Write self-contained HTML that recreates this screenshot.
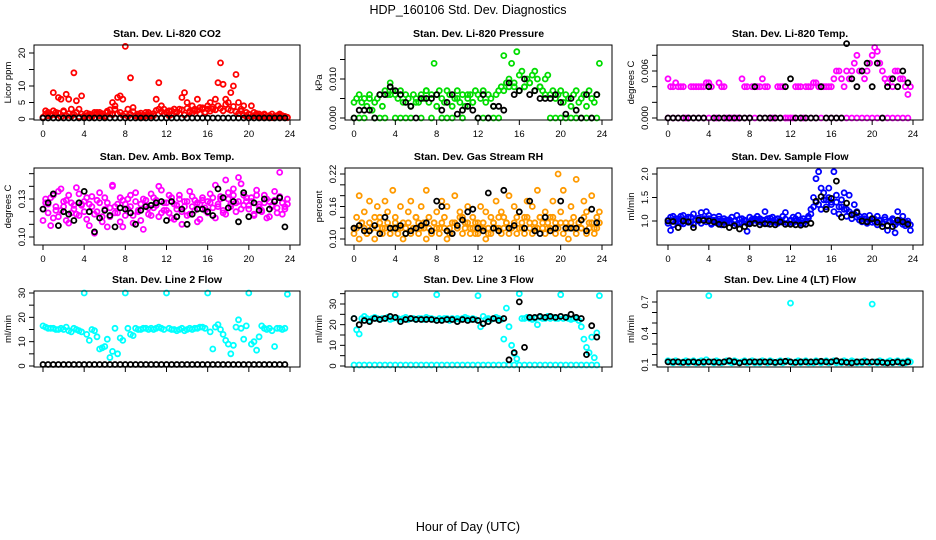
<!DOCTYPE html>
<html><head><meta charset="utf-8"><title>HDP_160106 Std. Dev. Diagnostics</title>
<style>
html,body{margin:0;padding:0;background:#fff;}
svg{display:block;font-family:"Liberation Sans",Arial,sans-serif;}
</style></head>
<body>
<svg id="chart" width="936" height="540" viewBox="0 0 936 540" xmlns="http://www.w3.org/2000/svg">
<text x="468" y="14" font-size="12.5" text-anchor="middle">HDP_160106  Std. Dev. Diagnostics</text>
<text x="468" y="531" font-size="12.5" text-anchor="middle">Hour of Day (UTC)</text>
</svg>
<script>
// ---- data (hour index: step * i) ----
const co2Red = [0.5,2.5,1,1.5,8,2,6.5,6,2.5,7.5,6,3,14,5.5,3,7,
1,1,1.5,1,2,1.5,2,1,0.5,2,1.5,5,4,6.5,7,6,
22,3,12.5,3.5,1,1.5,1,0.5,1,2,1,1,6,11,4,3,
2,1,2.5,3,2,3,6.5,8,5,2,4,2.5,6,3.5,3,2,
4,5,3,6,11,17,10.5,6,5,8,10,13.5,5,3,4,2,
1.5,4,2,1,1.5,1,1.5,0.5,1,1.5,0.5,1,1.5,1,0.5,0.5];
const co2RedBase = [0.4,1.5,2,1,2.5,1.2,1.8,0.6,2.2,1,1.6,0.8,1.4,2,0.7,1.5,
0.5,1.8,1.2,0.6,1.4,2,1,1.6,0.9,2.4,2.8,1.3,3,1.5,2,1.1,
1.6,0.8,1.4,2.2,1,0.6,1.8,1.2,2,1.4,0.9,1.6,2.6,3,2.2,1.5,
2,2.5,1.4,3,2.2,1.6,2.8,1.2,3.2,2.4,1.8,3,2.6,1.5,3.4,2,
3,2.4,3.6,2.8,4,3.2,2.5,4.4,3,2.6,3.8,2.2,1.6,2.4,1.2,0.8,
1.4,0.6,1,1.6,0.8,0.5,1.2,0.7,1,0.4,0.9,0.6,1.2,0.5,0.8,0.4];
const co2Black = [0.3,0.3,0.3,0.3,0.3,0.3,0.3,0.3,0.3,0.3,0.3,0.3,0.3,0.3,0.3,0.3,0.3,0.3,0.3,0.3,0.3,0.3,0.3,0.3,0.3,0.3,0.3,0.3,0.3,0.3,0.3,0.3,0.3,0.3,0.3,0.3,0.3,0.3,0.3,0.3,0.3,0.3,0.3,0.3,0.3,0.3,0.3,0.3];

const presGreen = [.004,.005,.006,.004,.005,.003,.006,.002,.004,.005,.006,.003,.007,.006,.009,.007,
.006,.005,.007,.004,.006,.005,.003,.006,.005,.004,.006,.005,.007,.004,.006,.014,
.006,.007,.005,.004,.007,.006,.003,.005,.007,.004,.006,.003,.005,.006,.004,.007,
.006,.005,.007,.004,.006,.005,.003,.006,.007,.008,.016,.009,.010,.014,.008,.017,
.011,.012,.008,.010,.009,.011,.012,.010,.008,.007,.010,.011,.006,.007,.005,.006,
.007,.004,.006,.005,.003,.006,.007,.004,.005,.006,.003,.007,.005,.004,.006,.014];
const presGreenBase = [0,0,0,.005,0,0,0,.006,0,0,0,0,.004,0,.007,0,.003,0,0,0,.005,0,.006,.004,0,0,0,0,0,.007,.008,.009,.007,.008,.009,.007,.008,.006,0,0,0,0,0,0,0,0,0,0];
const presBlack = [.000,.002,.002,.002,.000,.006,.006,.008,.007,.006,.004,.003,.000,.005,.005,.005,.006,.002,.004,.006,.001,.002,.003,.002,.000,.006,.000,.003,.003,.002,.009,.006,.007,.010,.006,.007,.005,.005,.005,.006,.004,.001,.005,.002,.000,.006,.000,.006];

const tempMag = [.005,.004,.004,.0045,.004,.004,.004,.000,.000,.004,.004,.004,.004,.004,.004,.0045,
.0045,.004,.000,.000,.0045,.004,.004,.000,.000,.000,.000,.000,.000,.005,.004,.004,
.000,.004,.004,.004,.004,.005,.004,.004,.000,.000,.000,.004,.004,.004,.000,.000,
.000,.000,.004,.004,.004,.000,.004,.004,.004,.0045,.0045,.004,.004,.004,.004,.004,
.004,.005,.006,.006,.005,.004,.006,.005,.006,.007,.008,.006,.006,.005,.006,.007,
.008,.009,.0085,.007,.006,.005,.0045,.005,.004,.006,.006,.005,.005,.004,.003,.004];
const tempMagBase = [0,0,0,0,0,0,0,0,0,0,0,0,0,0,0,0,0,0,0,0,0,0,0,0,0,0,0,0,0,0,0,0,0,0,0,0,0,0,0,0,0,0,0,0,0,0,0,0];
const tempBlack = [0,0,0,0,0,0,0,0,.004,0,0,0,0,0,0,0,0,.004,0,0,0,0,0,.004,.005,0,0,0,0,0,.004,0,0,0,0,.0095,.005,.004,.006,.007,.004,.007,0,.004,.005,.004,.006,.0045];

const boxMagA = [.122,.127,.119,.131,.115,.124,.136,.121,.128,.113,.133,.119,.125,.139,.117,.126,
.120,.131,.109,.124,.118,.129,.135,.112,.122,.127,.116,.140,.124,.119,.131,.108,
.126,.122,.133,.117,.128,.121,.113,.130,.125,.118,.134,.123,.129,.116,.137,.121,
.127,.119,.131,.114,.125,.133,.120,.128,.117,.136,.124,.129,.112,.126,.131,.121,
.128,.134,.123,.141,.126,.132,.119,.145,.130,.124,.138,.127,.147,.122,.133,.128,
.125,.131,.118,.137,.126,.121,.133,.115,.128,.124,.136,.119,.151,.127,.122,.130];
const boxMagB = [.113,.130,.126,.109,.133,.121,.116,.138,.124,.129,.111,.127,.122,.118,.134,.125,
.128,.114,.126,.132,.103,.120,.127,.116,.131,.108,.123,.141,.119,.126,.112,.129,
.117,.130,.124,.111,.135,.120,.126,.106,.129,.123,.117,.131,.125,.140,.119,.127,
.121,.133,.115,.126,.122,.130,.110,.124,.128,.118,.132,.121,.127,.114,.129,.123,
.119,.127,.131,.115,.124,.130,.121,.118,.135,.126,.133,.120,.128,.142,.125,.131,
.122,.128,.117,.133,.124,.120,.127,.130,.116,.125,.129,.123,.132,.118,.124,.126];
const boxBlack = [.122,.127,.134,.109,.120,.118,.113,.127,.136,.120,.104,.115,.121,.117,.108,.123,.122,.119,.110,.121,.124,.125,.127,.128,.113,.128,.116,.122,.110,.118,.122,.122,.120,.117,.138,.131,.123,.128,.112,.135,.116,.127,.121,.130,.122,.128,.131,.108];

const rhOrA = [.12,.14,.18,.13,.15,.11,.17,.12,.14,.16,.13,.12,.17,.15,.11,.19,
.14,.12,.16,.13,.11,.15,.17,.12,.14,.13,.16,.12,.19,.14,.11,.13,
.15,.12,.17,.14,.16,.11,.13,.18,.12,.15,.14,.13,.16,.12,.14,.11,
.13,.16,.12,.15,.11,.14,.13,.17,.12,.15,.14,.13,.18,.12,.16,.14,
.15,.12,.14,.17,.13,.16,.12,.19,.14,.13,.15,.12,.14,.17,.13,.22,
.15,.19,.13,.12,.16,.14,.21,.13,.12,.17,.15,.13,.18,.12,.14,.15];
const rhOrB = [.11,.12,.10,.13,.12,.11,.13,.12,.10,.12,.14,.11,.12,.13,.11,.12,
.13,.11,.12,.10,.12,.13,.11,.12,.14,.11,.12,.13,.10,.12,.11,.13,
.12,.11,.13,.12,.10,.12,.11,.13,.12,.14,.11,.12,.13,.11,.12,.13,
.11,.12,.13,.10,.12,.11,.13,.12,.14,.11,.12,.13,.11,.12,.13,.11,
.12,.13,.11,.14,.12,.11,.13,.12,.14,.12,.11,.13,.12,.14,.11,.12,
.13,.11,.12,.10,.13,.12,.11,.13,.12,.14,.11,.12,.13,.11,.12,.13];
const rhBlack = [.12,.125,.115,.115,.125,.11,.14,.12,.12,.125,.11,.115,.12,.125,.13,.115,.17,.16,.115,.11,.125,.135,.15,.155,.12,.115,.185,.12,.115,.19,.12,.125,.15,.12,.17,.115,.11,.14,.115,.12,.17,.12,.12,.12,.135,.115,.155,.13];

const flowBlueA = [1.02,.80,1.10,1.00,1.05,.95,1.12,1.00,1.08,.98,1.15,1.02,1.00,1.18,1.05,1.20,
1.12,.95,1.08,1.00,1.10,.98,1.05,1.02,.97,1.08,1.00,1.12,.95,1.05,1.00,.78,
1.08,1.00,1.05,1.10,.98,1.02,1.20,1.05,1.00,1.08,.97,1.05,1.02,1.10,1.18,.95,
1.02,1.08,1.00,1.12,.95,1.05,1.00,1.10,1.25,1.50,1.90,2.05,1.70,1.60,1.45,1.70,
1.40,2.05,1.55,1.30,1.45,1.60,1.25,1.55,1.15,1.35,1.20,1.10,1.05,1.10,1.00,1.12,
1.05,.98,1.10,1.02,.95,1.08,.80,1.00,1.05,.75,1.20,1.02,1.10,.90,1.00,.80];
const flowBlueB = [.95,1.08,.92,1.05,.98,1.10,.94,1.05,.97,1.08,.93,1.02,1.06,.95,1.04,.98,
1.05,.93,1.02,.96,1.04,.92,1.00,.97,1.03,.95,1.00,.93,1.04,.97,1.02,.95,
.97,1.04,.95,1.00,1.05,.96,1.02,.94,1.06,.98,1.03,.95,1.00,.97,1.04,.95,
1.00,.96,1.05,.98,1.02,.94,1.00,1.06,1.15,1.30,1.40,1.35,1.25,1.45,1.30,1.50,
1.35,1.20,1.40,1.15,1.30,1.25,1.10,1.20,1.05,1.15,1.08,1.02,.98,1.05,.95,1.02,
.97,1.04,.92,1.00,.95,1.03,.90,.98,1.02,.92,.97,1.00,.93,.98,.95,.92];
const flowBlack = [1.00,.99,.86,1.00,.98,.86,1.02,1.01,1.00,.98,.93,.92,.86,.90,.83,.88,.94,.95,.92,.94,.93,.92,.98,.93,.93,.92,.91,.93,.95,1.42,1.52,1.25,1.48,1.85,1.08,1.38,1.13,1.18,1.00,.98,1.05,.97,.88,.90,.88,1.02,.98,.93];

const line2Cyan = [16.5,16,15.5,15.5,15.5,15,15,15.5,15,16,14.5,14,15.5,15,14.5,14,
30,13,10.5,15,14.5,12,7,7.5,8,11,3.5,6,15.5,5,11.5,10.5,
30,15.5,13,12.5,15.5,15,15,15.5,15.5,15,15.5,15,15.5,16,15.5,15,
30,15.5,15,15,14.5,15,15.5,14.5,15,15.5,15,15.5,15.5,16,16,15.5,
30,14,7,16,17,15,13,10.5,9,5,8.5,16,19,15.5,11,16.5,
30,9,10,6.5,12,16.5,15.5,15,15.5,14.5,8,15.5,15.5,15,15.5,29.5];
const line2Black = [0.6,0.6,0.6,0.6,0.6,0.6,0.6,0.6,0.6,0.6,0.6,0.6,0.6,0.6,0.6,0.6,0.6,0.6,0.6,0.6,0.6,0.6,0.6,0.6,0.6,0.6,0.6,0.6,0.6,0.6,0.6,0.6,0.6,0.6,0.6,0.6,0.6,0.6,0.6,0.6,0.6,0.6,0.6,0.6,0.6,0.6,0.6,0.6];

const line3Cyan = [23,17.5,15.5,23,24,23,22,23,23.5,23,22.5,23,23,23.5,22.5,23,
34.5,23,22.5,23,23.5,22.5,23,23,22.5,23,23,22.5,23.5,23,23,22.5,
34.5,23,22.5,23,23,22,23,22.5,23,22.5,23,23.5,23,22.5,23,22.5,
34,19,24,22.5,23,22.5,23,23.5,23,22.5,13,28,19,10,6,3.5,
35,23,23,23.5,23,22.5,23,20,23.5,23,23,24,23,23.5,23,23,
34.5,23,23.5,23,22.5,23,23,22,19,13,9,6.5,14,4,16,34];
const line3CyanBase = [0.5,0.5,0.5,0.5,0.5,0.5,0.5,0.5,0.5,0.5,0.5,0.5,0.5,0.5,0.5,0.5,0.5,0.5,0.5,0.5,0.5,0.5,0.5,0.5,0.5,0.5,0.5,0.5,0.5,0.5,0.5,0.5,0.5,0.5,0.5,0.5,0.5,0.5,0.5,0.5,0.5,0.5,0.5,0.5,0.5,0.5,0.5,0.5];
const line3Black = [23,20,22,21.5,23,22.5,23,24,23.5,21.5,22.5,23,22.5,22.5,22.5,22.5,22,22,22.5,22.5,21.5,22.5,22,22.5,22,20.5,21.5,23,22,23,3,6.5,31,9,23.5,23.5,24,23.5,24,23.5,24,23.5,25,23.5,23,5.5,19.5,14];

const line4Cyan = [.14,.13,.12,.14,.13,.12,.13,.14,.12,.13,.14,.12,.13,.14,.12,.15,
.76,.13,.12,.14,.13,.12,.13,.14,.13,.12,.14,.13,.12,.13,.14,.12,
.13,.14,.12,.13,.12,.14,.13,.12,.14,.13,.12,.13,.14,.12,.13,.14,
.69,.12,.13,.14,.12,.13,.14,.12,.13,.12,.14,.13,.12,.13,.14,.12,
.13,.14,.12,.13,.12,.14,.13,.12,.14,.13,.12,.13,.12,.14,.13,.12,
.68,.13,.12,.14,.13,.12,.13,.14,.12,.13,.14,.12,.13,.12,.14,.13];
const line4Black = [.13,.13,.13,.125,.13,.13,.125,.13,.13,.13,.125,.13,.14,.13,.12,.13,.13,.13,.13,.13,.13,.125,.13,.135,.13,.125,.13,.13,.13,.13,.135,.13,.13,.14,.13,.125,.12,.13,.13,.13,.13,.13,.125,.12,.125,.13,.12,.13];

const hourTicks = [0,4,8,12,16,20,24];

const panels = [
 {name:'co2',title:'Stan. Dev. Li-820 CO2',ylab:'Licor ppm',box:[34,45,300,120],x0:43,x24:290,ya:[0,119],yb:[20,53],
  ticks:[0,5,10,15,20],labels:['0','5','10','','20'],xl:true,
  series:[{v:co2RedBase,s:0.25,c:'#ff0000'},{v:co2Red,s:0.25,c:'#ff0000'},{v:co2Black,s:0.5,c:'#000'}]},
 {name:'pressure',title:'Stan. Dev. Li-820 Pressure',ylab:'kPa',box:[345,45,612,120],x0:354,x24:602,ya:[0,118],yb:[0.010,79],
  ticks:[0,.005,.010,.015],labels:['0.000','','0.010',''],xl:true,
  series:[{v:presGreenBase,s:0.5,c:'#00dd00'},{v:presGreen,s:0.25,c:'#00dd00'},{v:presBlack,s:0.5,c:'#000'}]},
 {name:'temp',title:'Stan. Dev. Li-820 Temp.',ylab:'degrees C',box:[657,45,923,120],x0:668,x24:913,ya:[0,118],yb:[0.006,71],
  ticks:[0,.002,.004,.006,.008],labels:['0.000','','','0.006',''],xl:true,
  series:[{v:tempMagBase,s:0.5,c:'#ff00ff'},{v:tempMag,s:0.25,c:'#ff00ff'},{v:tempBlack,s:0.5,c:'#000'}]},
 {name:'box-temp',title:'Stan. Dev. Amb. Box Temp.',ylab:'degrees C',box:[34,168,300,245],x0:43,x24:290,ya:[0.10,237],yb:[0.13,199],
  ticks:[.10,.11,.12,.13,.14,.15],labels:['0.10','','','0.13','',''],xl:true,
  series:[{v:boxMagB,s:0.25,c:'#ff00ff'},{v:boxMagA,s:0.25,c:'#ff00ff'},{v:boxBlack,s:0.5,c:'#000'}]},
 {name:'rh',title:'Stan. Dev. Gas Stream RH',ylab:'percent',box:[345,168,612,245],x0:354,x24:602,ya:[0.10,239],yb:[0.22,174],
  ticks:[.10,.12,.14,.16,.18,.20,.22],labels:['0.10','','','0.16','','','0.22'],xl:true,
  series:[{v:rhOrB,s:0.25,c:'#ff9a00'},{v:rhOrA,s:0.25,c:'#ff9a00'},{v:rhBlack,s:0.5,c:'#000'}]},
 {name:'sample-flow',title:'Stan. Dev. Sample Flow',ylab:'ml/min',box:[657,168,923,245],x0:668,x24:913,ya:[1.0,221],yb:[2.0,174],
  ticks:[1.0,1.5,2.0],labels:['1.0','1.5','2.0'],xl:true,
  series:[{v:flowBlueB,s:0.25,c:'#0000ff'},{v:flowBlueA,s:0.25,c:'#0000ff'},{v:flowBlack,s:0.5,c:'#000'}]},
 {name:'line2',title:'Stan. Dev. Line 2 Flow',ylab:'ml/min',box:[34,291,300,367],x0:43,x24:290,ya:[0,366],yb:[30,293],
  ticks:[0,5,10,15,20,25,30],labels:['0','','10','','20','','30'],xl:false,
  series:[{v:line2Cyan,s:0.25,c:'#00ffff'},{v:line2Black,s:0.5,c:'#000'}]},
 {name:'line3',title:'Stan. Dev. Line 3 Flow',ylab:'ml/min',box:[345,291,612,367],x0:354,x24:602,ya:[0,366],yb:[30,304],
  ticks:[0,5,10,15,20,25,30,35],labels:['0','','10','','20','','30',''],xl:false,
  series:[{v:line3CyanBase,s:0.5,c:'#00ffff'},{v:line3Cyan,s:0.25,c:'#00ffff'},{v:line3Black,s:0.5,c:'#000'}]},
 {name:'line4',title:'Stan. Dev. Line 4 (LT) Flow',ylab:'ml/min',box:[657,291,923,367],x0:668,x24:913,ya:[0.1,365],yb:[0.7,302],
  ticks:[.1,.2,.3,.4,.5,.6,.7],labels:['0.1','','','0.4','','','0.7'],xl:false,
  series:[{v:line4Cyan,s:0.25,c:'#00ffff'},{v:line4Black,s:0.5,c:'#000'}]}
];

const NS='http://www.w3.org/2000/svg';
const svg=document.getElementById('chart');
function mk(tag,attrs,parent){const e=document.createElementNS(NS,tag);for(const k in attrs)e.setAttribute(k,attrs[k]);(parent||svg).appendChild(e);return e;}

panels.forEach(p=>{
  const g=mk('g',{});
  
  
  const [l,t,r,b]=p.box;
  const xs=h=>p.x0+(p.x24-p.x0)*h/24;
  const ys=v=>p.ya[1]+(v-p.ya[0])*(p.yb[1]-p.ya[1])/(p.yb[0]-p.ya[0]);
  const tt=mk('text',{x:(l+r)/2,y:t-8,'font-size':10.5,'font-weight':'bold','text-anchor':'middle'},g);
  tt.textContent=p.title;
  
  
  const pg=mk('g',{fill:'none','stroke-width':1.8},g);
  
  
  p.series.forEach(s=>{
    s.v.forEach((v,i)=>{
      const y=ys(v);
      if(y<t-2||y>b+2) return;
      const c=mk('circle',{cx:xs(i*s.s).toFixed(1),cy:y.toFixed(1),r:2.5,stroke:s.c},pg);
      
      
    });
  });
  const bx=mk('rect',{x:l,y:t,width:r-l,height:b-t,fill:'none',stroke:'#000','stroke-width':1},g);
  
  
  const xa=mk('g',{},g);
  
  
  mk('line',{x1:xs(0),x2:xs(24),y1:b,y2:b,stroke:'#000'},xa);
  hourTicks.forEach(h=>{
    mk('line',{x1:xs(h),x2:xs(h),y1:b,y2:b+5,stroke:'#000'},xa);
    if(p.xl){const tx=mk('text',{x:xs(h),y:b+17,'font-size':9.5,'text-anchor':'middle'},xa);tx.textContent=String(h);}
  });
  const ya=mk('g',{},g);
  
  
  mk('line',{x1:l,x2:l,y1:ys(p.ticks[0]),y2:ys(p.ticks[p.ticks.length-1]),stroke:'#000'},ya);
  p.ticks.forEach((v,i)=>{
    const y=ys(v);
    mk('line',{x1:l-5,x2:l,y1:y,y2:y,stroke:'#000'},ya);
    if(p.labels[i]){const tx=mk('text',{x:l-9,y:y,'font-size':9.5,'text-anchor':'middle',transform:`rotate(-90 ${l-9} ${y})`},ya);tx.textContent=p.labels[i];}
  });
  const yl=mk('text',{x:l-23,y:(t+b)/2,'font-size':9.5,'text-anchor':'middle',transform:`rotate(-90 ${l-23} ${(t+b)/2})`},g);
  yl.textContent=p.ylab;
  
  
});
</script>
</body></html>
